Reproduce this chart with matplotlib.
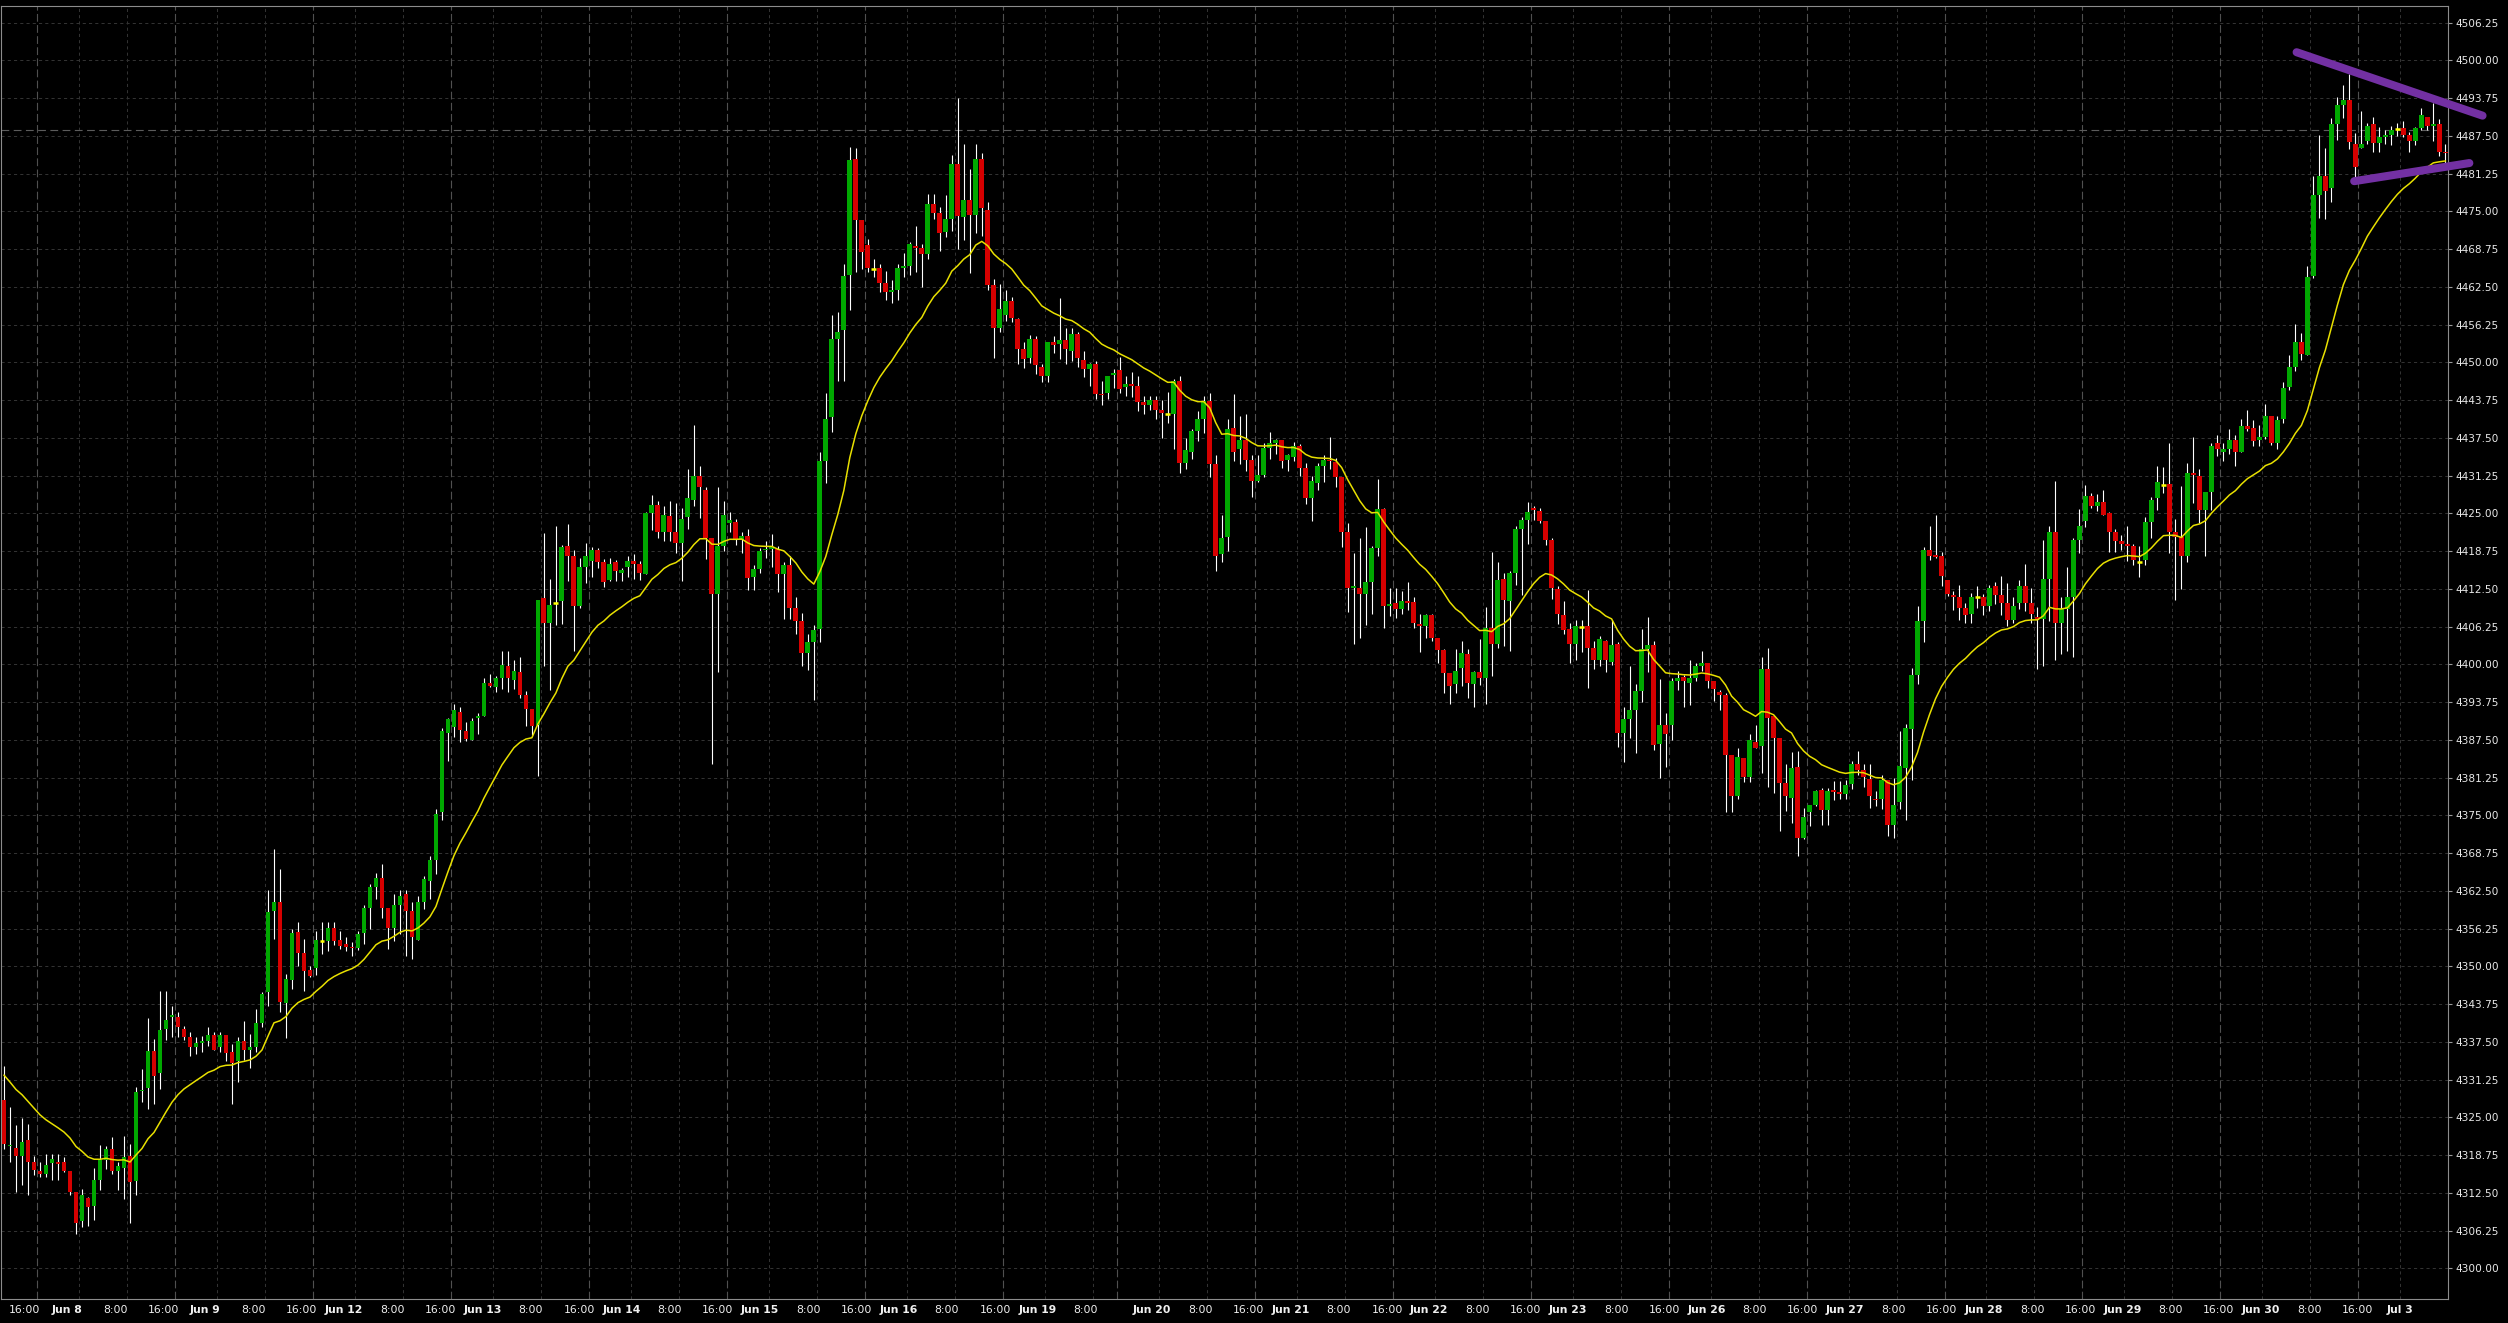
import numpy as np
import matplotlib
matplotlib.use("Agg")
import matplotlib.pyplot as plt
from matplotlib.transforms import blended_transform_factory

# hourly OHLC candles, index 0 = first bar on the chart (weekend / holiday gaps removed)
opens = [
    4327.9, 4320.2, 4320.0, 4318.6, 4321.3, 4317.6, 4316.1, 4315.7, 4317.4, 4317.7,
    4317.6, 4316.2, 4312.7, 4307.8, 4311.6, 4310.3, 4314.7, 4318.0, 4319.8, 4316.1,
    4316.6, 4318.7, 4314.5, 4329.4, 4329.8, 4336.0, 4332.3, 4339.7, 4341.6, 4341.7,
    4339.7, 4338.3, 4336.7, 4337.3, 4337.6, 4338.7, 4336.6, 4338.7, 4335.8, 4334.3,
    4337.7, 4336.1, 4336.6, 4340.6, 4345.8, 4359.2, 4360.7, 4344.0, 4347.8, 4355.7,
    4352.3, 4349.4, 4349.8, 4354.2, 4354.2, 4356.3, 4354.3, 4353.7, 4353.2, 4353.0,
    4355.5, 4359.6, 4363.2, 4364.6, 4359.6, 4356.3, 4360.2, 4362.0, 4359.2, 4354.4,
    4360.6, 4364.2, 4367.6, 4375.5, 4388.7, 4389.7, 4392.1, 4389.0, 4387.5, 4391.1,
    4391.5, 4397.0, 4396.3, 4397.8, 4399.7, 4397.4, 4398.7, 4394.9, 4392.7, 4390.0,
    4411.0, 4406.9, 4410.1, 4410.5, 4419.6, 4417.9, 4409.7, 4416.1, 4417.1, 4418.9,
    4416.9, 4414.0, 4416.9, 4415.2, 4416.1, 4417.1, 4416.7, 4415.0, 4425.0, 4426.4,
    4422.0, 4424.5, 4422.0, 4420.1, 4424.4, 4427.3, 4431.2, 4428.9, 4421.0, 4411.7,
    4419.6, 4423.4, 4423.6, 4420.6, 4421.2, 4414.5, 4415.8, 4418.9, 4419.1, 4419.1,
    4415.0, 4416.4, 4409.4, 4407.2, 4401.9, 4403.7, 4405.9, 4433.7, 4440.9, 4453.8,
    4455.4, 4464.4, 4483.7, 4473.5, 4469.5, 4465.5, 4465.7, 4463.2, 4461.6, 4462.0,
    4465.7, 4466.0, 4469.3, 4469.0, 4468.0, 4476.3, 4474.8, 4471.65, 4473.8, 4482.9,
    4474.0, 4476.9, 4474.4, 4483.75, 4475.25, 4462.75, 4455.7, 4457.8, 4460.2, 4457.2,
    4452.25, 4450.8, 4453.9, 4449.2, 4447.8, 4453.3, 4453.0, 4453.7, 4451.9, 4454.75,
    4450.4, 4448.9, 4449.8, 4444.85, 4444.97, 4447.95, 4448.8, 4445.96, 4446.35, 4446.07,
    4443.5, 4443.0, 4443.85, 4442.1, 4441.4, 4441.5, 4446.9, 4433.4, 4435.2, 4438.6,
    4440.65, 4443.6, 4433.2, 4418.2, 4421.1, 4439.15, 4435.6, 4437.2, 4433.85, 4430.3,
    4431.4, 4435.8, 4436.7, 4437.1, 4433.85, 4434.3, 4436.2, 4432.5, 4427.5, 4430.0,
    4432.9, 4433.85, 4433.5, 4431.0, 4422.0, 4412.6, 4412.6, 4411.6, 4413.6, 4419.2,
    4425.7, 4409.6, 4410.1, 4409.2, 4410.5, 4410.3, 4406.7, 4406.4, 4408.2, 4404.35,
    4402.4, 4398.5, 4396.8, 4399.4, 4401.7, 4396.8, 4398.8, 4397.8, 4405.95, 4403.4,
    4414.1, 4410.5, 4415.2, 4422.5, 4423.95, 4425.7, 4425.45, 4423.7, 4420.6, 4412.5,
    4408.15, 4405.8, 4403.3, 4406.2, 4406.3, 4402.7, 4400.7, 4403.8, 4400.4, 4403.3,
    4388.65, 4391.0, 4392.5, 4395.55, 4402.6, 4403.2, 4386.8, 4390.0, 4390.0, 4397.2,
    4397.9, 4397.0, 4397.8, 4399.7, 4400.25, 4397.3, 4395.4, 4394.9, 4384.95, 4378.25,
    4384.5, 4381.35, 4387.2, 4386.45, 4399.3, 4391.4, 4387.9, 4380.35, 4377.9, 4383.1,
    4371.25, 4375.65, 4376.8, 4379.2, 4375.9, 4379.25, 4378.8, 4378.6, 4380.25, 4383.45,
    4382.45, 4381.1, 4377.8, 4377.8, 4380.8, 4373.5, 4377.25, 4382.9, 4389.25, 4398.3,
    4407.2, 4418.9, 4418.1, 4418.0, 4414.0, 4411.5, 4411.1, 4409.3, 4408.4, 4411.1,
    4411.2, 4409.7, 4413.0, 4411.5, 4410.15, 4407.4, 4410.1, 4413.0, 4410.25, 4407.9,
    4407.5, 4414.2, 4421.9, 4406.8, 4409.15, 4411.1, 4420.65, 4423.8, 4427.9, 4426.3,
    4426.9, 4425.0, 4421.85, 4420.5, 4419.9, 4419.65, 4416.9, 4417.3, 4423.5, 4427.5,
    4429.7, 4429.8, 4421.95, 4421.1, 4417.95, 4431.7, 4431.2, 4425.5, 4428.6, 4436.6,
    4435.2, 4435.6, 4437.1, 4435.2, 4439.5, 4439.1, 4437.2, 4437.7, 4441.1, 4436.7,
    4440.6, 4446.0, 4449.3, 4453.3, 4451.25, 4464.3, 4477.7, 4480.9, 4478.8, 4489.5,
    4492.6, 4493.5, 4486.1, 4485.55, 4486.6, 4489.5, 4486.3, 4487.3, 4487.7, 4488.6,
    4488.8, 4487.7, 4486.6, 4488.8, 4490.7, 4489.2, 4489.5, 4484.8,
]
highs = [
    4333.6, 4326.8, 4323.8, 4324.9, 4324.0, 4318.6, 4317.6, 4318.9, 4318.9, 4319.0,
    4318.4, 4316.2, 4312.7, 4313.2, 4311.9, 4316.6, 4320.5, 4320.3, 4321.8, 4317.6,
    4322.0, 4320.6, 4330.0, 4333.1, 4341.4, 4338.0, 4346.0, 4346.0, 4343.5, 4342.4,
    4340.2, 4339.1, 4338.3, 4338.5, 4339.9, 4339.1, 4339.1, 4338.7, 4337.1, 4338.4,
    4341.0, 4338.8, 4343.0, 4345.7, 4362.6, 4369.4, 4366.1, 4348.8, 4356.2, 4357.4,
    4354.5, 4350.1, 4355.8, 4357.3, 4357.3, 4357.3, 4355.9, 4354.8, 4354.0, 4355.9,
    4360.1, 4363.6, 4365.5, 4366.9, 4359.6, 4362.0, 4362.6, 4362.6, 4360.6, 4361.7,
    4365.0, 4368.3, 4376.0, 4389.5, 4391.2, 4393.5, 4393.0, 4390.5, 4391.1, 4392.0,
    4397.8, 4398.4, 4398.1, 4402.3, 4402.2, 4400.7, 4401.2, 4395.6, 4392.7, 4410.7,
    4421.8, 4414.2, 4422.9, 4419.7, 4423.3, 4419.0, 4417.6, 4420.1, 4419.4, 4419.3,
    4417.4, 4417.6, 4417.3, 4415.9, 4418.0, 4418.2, 4417.1, 4425.3, 4428.0, 4427.0,
    4426.3, 4427.0, 4426.8, 4425.9, 4432.4, 4439.6, 4432.8, 4429.3, 4421.0, 4429.3,
    4427.0, 4425.3, 4424.1, 4421.9, 4422.5, 4416.5, 4419.3, 4420.4, 4421.6, 4419.6,
    4416.9, 4417.9, 4411.2, 4408.5, 4405.1, 4406.5, 4435.1, 4445.0, 4457.9, 4458.4,
    4466.3, 4485.6, 4485.5, 4473.5, 4470.4, 4467.2, 4466.3, 4465.2, 4463.6, 4466.3,
    4468.1, 4469.9, 4472.5, 4469.6, 4477.9, 4477.9, 4475.8, 4477.7, 4484.4, 4493.7,
    4486.2, 4482.0, 4486.2, 4484.7, 4476.5, 4463.85, 4462.9, 4462.0, 4460.9, 4457.4,
    4453.3, 4454.6, 4454.4, 4449.8, 4453.4, 4454.4, 4460.7, 4455.7, 4455.7, 4455.0,
    4451.9, 4449.95, 4450.3, 4446.9, 4447.8, 4448.9, 4450.9, 4447.8, 4448.4, 4447.7,
    4444.4, 4444.5, 4444.5, 4443.75, 4445.1, 4447.2, 4447.7, 4437.5, 4439.0, 4441.9,
    4444.4, 4444.97, 4434.75, 4424.8, 4440.65, 4444.7, 4441.2, 4441.5, 4434.6, 4434.6,
    4436.6, 4438.55, 4437.3, 4437.2, 4434.85, 4436.8, 4436.5, 4433.3, 4431.25, 4433.3,
    4434.6, 4437.6, 4434.2, 4431.0, 4423.4, 4418.45, 4421.0, 4422.8, 4419.65, 4430.7,
    4425.85, 4412.6, 4412.6, 4412.1, 4413.6, 4411.1, 4408.3, 4408.4, 4408.4, 4404.35,
    4402.5, 4398.5, 4402.5, 4403.9, 4402.5, 4398.9, 4404.2, 4409.5, 4418.55, 4417.0,
    4415.2, 4415.5, 4422.95, 4424.45, 4426.95, 4426.3, 4425.9, 4423.7, 4421.0, 4413.0,
    4410.5, 4406.9, 4407.3, 4407.3, 4412.4, 4403.95, 4404.7, 4404.1, 4407.3, 4403.7,
    4392.9, 4399.7, 4396.8, 4405.8, 4407.8, 4403.8, 4397.65, 4392.0, 4397.8, 4398.9,
    4398.2, 4400.7, 4400.25, 4402.2, 4400.25, 4397.3, 4395.8, 4395.2, 4384.95, 4386.2,
    4384.5, 4388.45, 4390.0, 4401.2, 4402.8, 4391.4, 4387.9, 4383.5, 4385.45, 4385.6,
    4376.3, 4376.8, 4379.2, 4379.6, 4379.5, 4380.7, 4380.75, 4380.9, 4384.0, 4385.65,
    4383.45, 4383.45, 4379.0, 4381.7, 4380.8, 4381.15, 4388.95, 4390.1, 4399.4, 4409.7,
    4419.5, 4422.9, 4424.8, 4418.55, 4414.0, 4412.2, 4413.2, 4410.25, 4411.9, 4413.0,
    4411.6, 4413.2, 4413.6, 4414.7, 4413.5, 4411.2, 4414.0, 4416.6, 4412.6, 4409.5,
    4420.6, 4422.95, 4430.3, 4411.1, 4416.05, 4421.0, 4425.7, 4429.75, 4428.4, 4428.2,
    4428.9, 4425.3, 4422.4, 4421.5, 4422.95, 4419.9, 4419.65, 4424.35, 4427.8, 4432.9,
    4432.7, 4436.7, 4424.05, 4429.5, 4433.3, 4437.7, 4432.3, 4428.6, 4436.7, 4438.0,
    4436.7, 4438.9, 4438.0, 4440.6, 4442.1, 4440.5, 4439.6, 4443.1, 4441.1, 4441.1,
    4446.7, 4451.2, 4456.3, 4454.9, 4465.9, 4480.9, 4487.6, 4485.55, 4490.5, 4494.0,
    4495.9, 4497.8, 4488.0, 4491.6, 4489.6, 4490.7, 4489.0, 4488.5, 4489.2, 4489.7,
    4490.0, 4488.1, 4488.9, 4492.1, 4490.7, 4492.9, 4490.3, 4486.1,
]
lows = [
    4319.7, 4317.6, 4312.6, 4313.9, 4312.1, 4315.5, 4315.1, 4315.1, 4314.6, 4314.7,
    4315.9, 4312.1, 4305.7, 4306.9, 4307.1, 4308.1, 4313.0, 4316.5, 4315.6, 4313.0,
    4311.5, 4307.6, 4312.1, 4327.6, 4326.4, 4327.2, 4329.7, 4337.9, 4338.4, 4338.4,
    4337.9, 4335.1, 4335.5, 4335.8, 4336.9, 4336.2, 4335.8, 4334.4, 4327.3, 4330.8,
    4334.5, 4333.2, 4335.8, 4339.9, 4343.5, 4354.6, 4342.4, 4338.1, 4346.2, 4350.1,
    4345.9, 4348.2, 4348.6, 4352.1, 4352.6, 4353.6, 4352.9, 4352.6, 4351.7, 4352.7,
    4353.7, 4356.2, 4361.1, 4358.0, 4352.9, 4354.2, 4355.4, 4351.8, 4351.2, 4354.4,
    4359.5, 4361.1, 4365.3, 4374.2, 4384.0, 4388.0, 4387.1, 4387.4, 4387.5, 4388.5,
    4391.5, 4396.2, 4395.5, 4395.9, 4395.5, 4395.9, 4394.5, 4389.8, 4388.3, 4381.5,
    4399.7, 4395.8, 4406.6, 4406.7, 4413.8, 4402.2, 4409.4, 4413.5, 4414.5, 4415.9,
    4412.8, 4413.8, 4413.8, 4413.8, 4414.5, 4414.2, 4413.9, 4415.0, 4422.3, 4420.9,
    4420.4, 4420.4, 4418.5, 4413.8, 4422.5, 4426.2, 4424.2, 4417.5, 4383.5, 4398.7,
    4418.7, 4421.9, 4419.7, 4418.5, 4412.3, 4412.3, 4415.2, 4417.6, 4416.1, 4412.0,
    4407.6, 4407.5, 4405.1, 4399.8, 4399.1, 4394.1, 4403.7, 4430.0, 4438.5, 4446.9,
    4446.9, 4458.6, 4464.9, 4465.5, 4464.9, 4464.1, 4461.6, 4460.3, 4459.8, 4460.4,
    4464.1, 4464.4, 4465.0, 4462.5, 4467.1, 4473.7, 4468.5, 4470.8, 4471.75, 4468.8,
    4470.3, 4464.85, 4471.5, 4470.9, 4462.0, 4450.8, 4455.0, 4456.8, 4456.7, 4449.7,
    4449.1, 4449.9, 4448.1, 4446.7, 4446.7, 4451.6, 4450.6, 4449.8, 4450.2, 4449.2,
    4447.6, 4446.1, 4443.9, 4442.9, 4443.9, 4445.8, 4444.97, 4444.4, 4444.3, 4441.9,
    4441.4, 4442.2, 4440.55, 4437.5, 4439.9, 4435.6, 4431.7, 4432.3, 4434.0, 4436.95,
    4438.35, 4431.05, 4415.4, 4416.9, 4418.7, 4433.6, 4433.1, 4432.1, 4427.8, 4430.2,
    4431.1, 4434.0, 4434.85, 4432.6, 4432.1, 4433.7, 4431.25, 4426.6, 4423.7, 4428.9,
    4430.2, 4432.4, 4429.3, 4419.5, 4408.6, 4403.4, 4404.3, 4406.6, 4408.3, 4417.9,
    4406.1, 4408.05, 4407.7, 4408.3, 4409.0, 4406.1, 4402.1, 4404.35, 4403.8, 4400.3,
    4395.35, 4393.5, 4395.35, 4396.45, 4394.4, 4393.0, 4396.6, 4393.5, 4398.1, 4402.8,
    4403.1, 4402.2, 4413.1, 4411.5, 4420.0, 4423.9, 4423.4, 4419.75, 4410.9, 4406.7,
    4405.05, 4400.25, 4400.7, 4402.1, 4396.1, 4399.25, 4399.7, 4398.7, 4399.95, 4386.3,
    4383.9, 4387.8, 4385.3, 4393.8, 4398.75, 4385.9, 4381.25, 4382.95, 4387.45, 4395.8,
    4393.0, 4393.35, 4397.2, 4398.9, 4396.1, 4393.9, 4392.4, 4375.5, 4375.5, 4377.7,
    4380.6, 4380.5, 4386.2, 4381.95, 4379.7, 4378.7, 4372.5, 4375.7, 4373.8, 4368.3,
    4371.1, 4373.3, 4376.6, 4373.4, 4373.4, 4377.6, 4377.8, 4377.7, 4379.3, 4381.7,
    4379.75, 4376.2, 4376.55, 4376.1, 4371.6, 4371.3, 4376.15, 4374.25, 4380.8, 4396.8,
    4403.7, 4417.3, 4417.7, 4413.0, 4411.35, 4409.0, 4407.3, 4406.8, 4406.8, 4409.4,
    4408.2, 4408.9, 4410.0, 4408.2, 4406.3, 4406.9, 4409.15, 4408.9, 4406.8, 4399.2,
    4399.75, 4407.2, 4400.7, 4401.8, 4402.25, 4401.25, 4418.4, 4422.7, 4425.9, 4425.35,
    4424.8, 4418.55, 4418.55, 4418.9, 4417.15, 4416.4, 4414.4, 4416.4, 4421.0, 4425.6,
    4428.3, 4418.5, 4410.6, 4412.5, 4417.0, 4426.8, 4423.4, 4418.0, 4425.6, 4434.5,
    4433.7, 4434.8, 4432.8, 4435.2, 4438.7, 4436.1, 4436.2, 4437.4, 4436.4, 4435.6,
    4440.0, 4445.4, 4448.6, 4450.4, 4451.25, 4464.0, 4473.85, 4473.8, 4476.6, 4486.9,
    4490.5, 4485.4, 4480.6, 4485.55, 4486.1, 4484.8, 4484.8, 4486.1, 4486.0, 4487.5,
    4487.3, 4484.8, 4486.0, 4488.4, 4488.4, 4486.6, 4484.1, 4482.9,
]
closes = [
    4320.6, 4320.5, 4318.6, 4321.0, 4317.6, 4316.3, 4315.7, 4317.2, 4318.1, 4317.3,
    4316.2, 4312.7, 4307.6, 4312.2, 4310.1, 4314.7, 4318.0, 4319.8, 4316.1, 4317.0,
    4318.5, 4314.3, 4329.3, 4329.6, 4336.0, 4331.9, 4339.5, 4341.2, 4342.0, 4340.0,
    4338.3, 4336.6, 4337.3, 4337.7, 4338.7, 4336.2, 4338.7, 4335.6, 4334.1, 4337.7,
    4336.1, 4336.7, 4340.6, 4345.5, 4359.0, 4360.6, 4344.1, 4348.0, 4355.5, 4352.3,
    4349.3, 4348.5, 4354.4, 4354.2, 4356.3, 4354.2, 4353.4, 4353.2, 4353.0, 4355.4,
    4359.7, 4363.2, 4364.6, 4359.6, 4356.4, 4360.2, 4361.6, 4359.2, 4354.8, 4360.7,
    4364.5, 4367.6, 4375.3, 4389.0, 4391.0, 4392.4, 4389.1, 4387.7, 4390.6, 4391.5,
    4396.9, 4396.5, 4397.7, 4399.9, 4397.8, 4398.9, 4395.0, 4392.7, 4389.8, 4410.7,
    4406.9, 4409.9, 4410.1, 4419.4, 4417.9, 4409.7, 4416.1, 4417.9, 4418.9, 4416.9,
    4413.6, 4416.7, 4415.5, 4415.6, 4417.1, 4416.7, 4415.2, 4425.0, 4426.4, 4422.0,
    4424.8, 4422.0, 4420.1, 4424.1, 4427.6, 4431.2, 4429.4, 4421.0, 4411.7, 4419.6,
    4424.8, 4423.9, 4420.6, 4421.2, 4414.3, 4415.8, 4418.8, 4419.1, 4419.5, 4414.9,
    4416.4, 4409.4, 4407.2, 4401.9, 4403.7, 4405.7, 4433.7, 4440.7, 4453.8, 4455.1,
    4464.3, 4483.5, 4473.5, 4468.2, 4465.7, 4465.5, 4463.2, 4461.7, 4462.0, 4465.7,
    4466.0, 4469.6, 4468.9, 4468.0, 4476.3, 4474.8, 4471.5, 4473.8, 4482.9, 4474.25,
    4476.9, 4474.4, 4483.75, 4475.5, 4462.75, 4455.7, 4458.9, 4460.2, 4457.4, 4452.25,
    4450.5, 4453.8, 4449.5, 4447.8, 4453.3, 4452.8, 4453.7, 4452.25, 4454.75, 4450.8,
    4448.9, 4449.8, 4444.7, 4444.6, 4447.7, 4448.3, 4445.6, 4446.5, 4446.07, 4443.5,
    4443.0, 4443.85, 4442.2, 4441.65, 4441.4, 4446.9, 4433.4, 4435.5, 4438.6, 4440.65,
    4443.6, 4433.2, 4417.9, 4420.9, 4439.0, 4435.2, 4437.2, 4433.85, 4430.4, 4431.4,
    4435.8, 4436.7, 4437.1, 4433.7, 4434.6, 4436.1, 4432.5, 4427.5, 4430.3, 4432.9,
    4433.85, 4433.6, 4431.0, 4421.9, 4412.6, 4413.0, 4411.6, 4413.6, 4419.2, 4425.7,
    4409.6, 4410.0, 4409.2, 4410.5, 4410.1, 4406.8, 4406.4, 4408.2, 4404.3, 4402.4,
    4398.5, 4396.45, 4398.9, 4401.9, 4397.0, 4398.8, 4397.8, 4406.1, 4403.4, 4414.0,
    4410.7, 4415.1, 4422.5, 4423.95, 4425.3, 4425.6, 4423.8, 4420.6, 4412.7, 4408.4,
    4405.7, 4403.3, 4406.3, 4406.2, 4402.7, 4400.7, 4404.2, 4400.7, 4403.2, 4388.65,
    4391.0, 4392.5, 4395.55, 4402.6, 4403.2, 4386.7, 4390.0, 4388.5, 4397.2, 4397.8,
    4397.3, 4397.8, 4399.7, 4400.25, 4397.3, 4395.9, 4395.0, 4385.05, 4378.25, 4384.6,
    4381.35, 4387.45, 4386.2, 4399.25, 4391.1, 4387.9, 4380.3, 4378.15, 4382.85, 4371.25,
    4374.7, 4376.8, 4379.1, 4375.9, 4379.1, 4378.95, 4378.6, 4380.1, 4383.45, 4382.45,
    4381.4, 4378.2, 4377.55, 4380.8, 4373.5, 4376.8, 4383.2, 4389.4, 4398.3, 4407.2,
    4418.9, 4418.0, 4417.8, 4414.7, 4411.6, 4411.1, 4409.3, 4408.2, 4411.2, 4411.1,
    4409.7, 4412.6, 4411.5, 4410.25, 4407.4, 4409.7, 4413.0, 4410.25, 4408.3, 4407.5,
    4414.2, 4422.0, 4406.8, 4409.15, 4411.1, 4420.65, 4422.85, 4427.9, 4426.3, 4426.9,
    4424.8, 4421.85, 4420.5, 4420.0, 4419.65, 4417.3, 4416.9, 4423.5, 4427.3, 4430.2,
    4429.7, 4422.0, 4421.1, 4417.9, 4431.7, 4431.3, 4425.5, 4428.6, 4436.2, 4435.6,
    4435.7, 4437.1, 4435.2, 4439.5, 4438.95, 4437.0, 4437.7, 4441.1, 4436.7, 4440.5,
    4445.7, 4449.3, 4453.3, 4451.35, 4464.2, 4477.7, 4480.9, 4478.4, 4489.5, 4492.6,
    4493.4, 4486.5, 4482.4, 4486.1, 4489.2, 4486.3, 4487.3, 4487.7, 4488.5, 4488.6,
    4487.6, 4486.6, 4488.8, 4491.0, 4489.2, 4489.5, 4484.8, 4484.6,
]

# moving average (exponential) on closes, seeded with the value visible at the left edge
ma_seed = 4332.0
ma_period = 19

last_price = 4488.4

# time axis labels: bar index where each label's gridline sits
label_idx = [6, 13, 21, 29, 36, 44, 52, 59, 67, 75, 82, 90, 98, 105, 113, 121,
             128, 136, 144, 151, 159, 167, 174, 182, 186, 193, 201, 209, 216, 224,
             232, 239, 247, 255, 262, 270, 278, 285, 293, 301, 308, 316, 324, 331,
             339, 347, 354, 362, 370, 377, 385, 393, 400]
label_text = ["16:00", "Jun 8", "8:00", "16:00", "Jun 9", "8:00", "16:00",
              "Jun 12", "8:00", "16:00", "Jun 13", "8:00", "16:00",
              "Jun 14", "8:00", "16:00", "Jun 15", "8:00", "16:00",
              "Jun 16", "8:00", "16:00", "Jun 19", "8:00", "",
              "Jun 20", "8:00", "16:00", "Jun 21", "8:00", "16:00",
              "Jun 22", "8:00", "16:00", "Jun 23", "8:00", "16:00",
              "Jun 26", "8:00", "16:00", "Jun 27", "8:00", "16:00",
              "Jun 28", "8:00", "16:00", "Jun 29", "8:00", "16:00",
              "Jun 30", "8:00", "16:00", "Jul 3"]

price_ticks = [4300.0 + 6.25 * k for k in range(34)]

# hand-drawn trend lines (bar index, price)
upper_line_x = [382.2, 413.2]
upper_line_y = [4501.35, 4490.85]
lower_line_x = [391.8, 411.0]
lower_line_y = [4480.0, 4483.0]


o = np.array(opens)
h = np.array(highs)
l = np.array(lows)
c = np.array(closes)
x = np.arange(len(c))

alpha = 2.0 / (ma_period + 1)
ma = np.empty(len(c))
ma[0] = ma_seed
for i in range(1, len(c)):
    ma[i] = ma[i - 1] + alpha * (c[i] - ma[i - 1])

plt.rcParams["font.family"] = ["DejaVu Sans"]

fig = plt.figure(figsize=(25.08, 13.23), dpi=100, facecolor="black")
ax = fig.add_axes([0.0003, 0.01814, 0.9758, 0.97732])
ax.set_facecolor("black")

# grid
for v in price_ticks:
    ax.axhline(v, color="#323232", lw=0.75, ls=(0, (3, 3)), zorder=0)
for k, t in zip(label_idx, label_text):
    if t in ("16:00", ""):
        ax.axvline(k - 0.5, color="#505050", lw=0.8, ls=(0, (7, 3)), zorder=0)
    else:
        ax.axvline(k - 0.5, color="#323232", lw=0.75, ls=(0, (3, 3)), zorder=0)

ax.axhline(last_price, color="#5c5c5c", lw=0.8, ls=(0, (7, 4)), zorder=1)

# candles
ax.vlines(x, l, h, colors="white", lw=0.8, zorder=2)
up = c > o
down = c < o
doji = c == o
body = np.maximum(np.abs(c - o), 0.22)
ax.bar(x[up], body[up], bottom=o[up], width=0.8, color="#00a800", lw=0, zorder=3)
ax.bar(x[down], body[down], bottom=c[down], width=0.8, color="#d60000", lw=0, zorder=3)
ax.hlines(o[doji], x[doji] - 0.4, x[doji] + 0.4, colors="#ffff00", lw=1.8, zorder=3)

ax.plot(x, ma, color="#e8e000", lw=1.1, zorder=4)

ax.plot(upper_line_x, upper_line_y, color="#7330a3", lw=5.8,
        solid_capstyle="round", clip_on=False, zorder=6)
ax.plot(lower_line_x, lower_line_y, color="#7330a3", lw=5.8,
        solid_capstyle="round", clip_on=False, zorder=6)

ax.set_xlim(-0.55, 407.45)
ax.set_ylim(4294.95, 4509.0)

ax.yaxis.tick_right()
ax.set_yticks(price_ticks)
ax.set_yticklabels([f"{v:.2f}" for v in price_ticks])
ax.tick_params(axis="y", colors="#9a9a9a", labelcolor="#e8e8e8",
               labelsize=7.6, length=3, width=0.8, pad=2)
ax.set_xticks([])

for s in ax.spines.values():
    s.set_color("#8c8c8c")
    s.set_linewidth(0.8)

trans = blended_transform_factory(ax.transData, ax.transAxes)
for k, t in zip(label_idx, label_text):
    if not t:
        continue
    bold = not t[0].isdigit()
    ax.text((k - 0.5) * 1.005 - 2.1, -0.0088, t, transform=trans,
            ha="center", va="center", color="#f0f0f0",
            fontsize=7.8, fontweight="bold" if bold else "normal", clip_on=False)

fig.savefig("out.png", dpi=100, facecolor="black")
